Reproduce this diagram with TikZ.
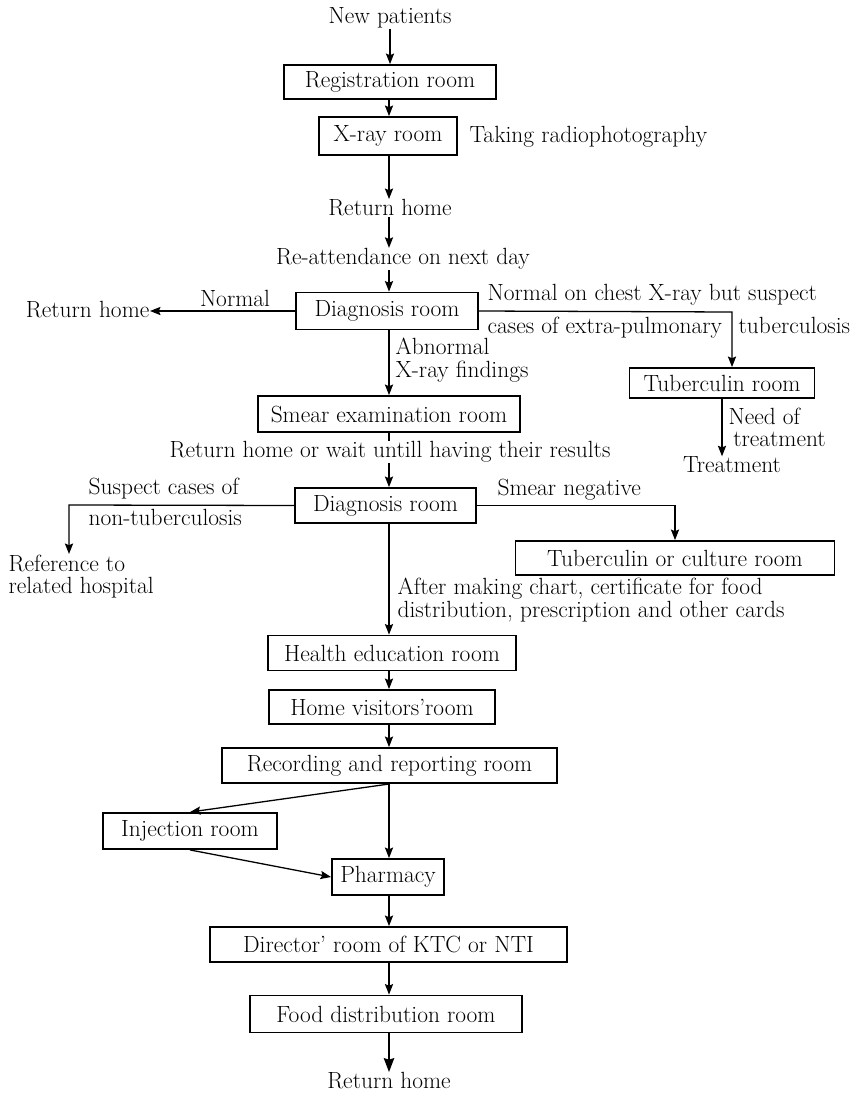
\documentclass[tikz,border=0pt]{standalone}
\usetikzlibrary{arrows.meta}
\begin{document}
\begin{tikzpicture}[x=0.03cm, y=-0.03cm, line width=1.1pt,
  every node/.style={font=\fontsize{20}{19}\selectfont, inner sep=0pt},
  room/.style={draw, line width=1.6pt, minimum height=1.05cm},
  arr/.style={-{Stealth[length=9pt, width=7pt, inset=1.5pt]}},
  bigarr/.style={-{Stealth[length=12pt, width=9pt, inset=1.5pt]}}]
  \useasboundingbox (0,0) rectangle (852,1095);
  \coordinate (axis) at (389,0);
  % first visit
  \node (newp) at (390,18) {New patients};
  \node[room, minimum width=6.36cm, minimum height=1.02cm] (reg) at (390,82) {Registration room};
  \node[room, minimum width=4.14cm, minimum height=1.14cm] (xray) at (388,136) {X-ray room};
  \node[anchor=west] (takerad) at (469,137) {Taking radiophotography};
  \node (ret1) at (390,208) {Return home};
  \node (reatt) at (403,259) {Re-attendance on next day};
  % first diagnosis
  \node[room, minimum width=5.46cm, minimum height=1.11cm] (diag1) at (387,311) {Diagnosis room};
  \node[anchor=east] (ret2) at (150,310) {Return home};
  \node (normal) at (235,298) {Normal};
  \node[anchor=west] (chest1) at (487,295) {Normal on chest X-ray but suspect};
  \node[anchor=base west] (chest2) at (487,333) {cases of extra-pulmonary};
  \node[anchor=base west] (chest3) at (738,333) {tuberculosis};
  \node[anchor=west, align=left] (abn) at (395,360) {Abnormal\\X-ray findings};
  \node[room, minimum width=7.86cm, minimum height=1.08cm] (smear) at (389,414) {Smear examination room};
  \node[room, minimum width=5.55cm, minimum height=0.9cm] (tub) at (722,383) {Tuberculin room};
  \node[anchor=west, align=left] (need) at (728,427) {Need of\\\hspace{4pt}treatment};
  \node (treat) at (732,465) {Treatment};
  \node (waitres) at (390,452) {Return home or wait untill having their results};
  % second diagnosis
  \node[room, minimum width=5.43cm, minimum height=1.05cm] (diag2) at (385.5,505.5) {Diagnosis room};
  \node[anchor=base west] (susp1) at (88,494) {Suspect cases of};
  \node[anchor=base west] (susp2) at (88,525) {non-tuberculosis};
  \node[anchor=north west, align=left] (ref) at (8,554) {Reference to\\related hospital};
  \node[anchor=west] (smneg) at (497,490) {Smear negative};
  \node[room, minimum width=9.57cm, minimum height=1.02cm] (tubcult) at (675,558) {Tuberculin or culture room};
  \node[anchor=west, align=left] (after) at (397,600) {After making chart, certificate for food\\distribution, prescription and other cards};
  % treatment rooms
  \node[room, minimum width=7.44cm] (health) at (392,653) {Health education room};
  \node[room, minimum width=6.78cm, minimum height=1.02cm] (homevis) at (382,707) {Home visitors'room};
  \node[room, minimum width=10.05cm] (record) at (389.5,765.5) {Recording and reporting room};
  \node[room, minimum width=5.22cm, minimum height=1.08cm] (inject) at (190,831) {Injection room};
  \node[room, minimum width=3.36cm, minimum height=1.08cm] (pharm) at (388,877) {Pharmacy};
  \node[room, minimum width=10.71cm] (director) at (388.5,944.5) {Director' room of KTC or NTI};
  \node[room, minimum width=8.16cm, minimum height=1.11cm] (food) at (386,1014) {Food distribution room};
  \node (ret3) at (389,1081) {Return home};
  \coordinate (tubturn) at (732,312);
  \coordinate (refturn) at (69,505);
  % connectors
  \draw[arr] (newp) -- (reg);
  \draw[arr] (reg.south -| axis) -- (xray.north -| axis);
  \draw[arr] (xray.south -| axis) -- (ret1.north -| axis);
  \draw[arr] (ret1.south -| axis) -- (reatt.north -| axis);
  \draw[arr] (reatt.south -| axis) -- (diag1.north -| axis);
  \draw[arr] (diag1.west) -- (diag1.west -| ret2.east);
  \draw[arr] (diag1.east) -- (tubturn) -- (tubturn |- tub.north);
  \draw[arr] (diag1.south -| axis) -- (smear.north -| axis);
  \draw[arr] (tub.south) -- (tub.south |- treat.north);
  \draw (smear.south -| axis) -- (waitres.north -| axis);
  \draw[arr] (waitres.south -| axis) -- (diag2.north -| axis);
  \draw[arr] (diag2.west) -- (refturn) -- (refturn |- ref.north);
  \draw[arr] (diag2.east) -| (tubcult.north);
  \draw[arr] (diag2.south -| axis) -- (health.north -| axis);
  \draw[arr] (health.south -| axis) -- (homevis.north -| axis);
  \draw[arr] (homevis.south -| axis) -- (record.north -| axis);
  \draw[arr] (record.south) -- (inject.north);
  \draw[arr] (inject.south) -- (pharm.west);
  \draw[arr] (record.south -| axis) -- (pharm.north -| axis);
  \draw[arr] (pharm.south -| axis) -- (director.north -| axis);
  \draw[arr] (director.south -| axis) -- (food.north -| axis);
  \draw[bigarr] (food.south -| axis) -- (ret3.north -| axis);
\end{tikzpicture}
\end{document}
